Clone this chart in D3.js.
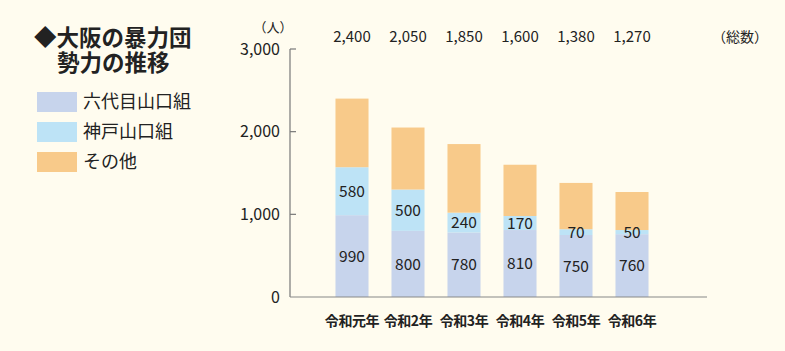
<!DOCTYPE html>
<html><head><meta charset="utf-8">
<script src="https://cdn.jsdelivr.net/npm/d3@7"></script>
<style>
body{margin:0;background:#FFFCEF;}
svg{display:block;font-family:"Noto Sans CJK JP","Noto Sans",sans-serif;}
</style></head>
<body><svg id="c" width="785" height="351"></svg>
<script>
const categories = ["令和元年","令和2年","令和3年","令和4年","令和5年","令和6年"];
const rokudaime = [990,800,780,810,750,760];
const kobe = [580,500,240,170,70,50];
const totals = [2400,2050,1850,1600,1380,1270];
const others = totals.map((t,i)=>t-rokudaime[i]-kobe[i]);
const seriesNames = ["六代目山口組","神戸山口組","その他"];
const colors = ["#C7D4EC","#BDE3F6","#F8CA8A"];
const yTicks = [0,1000,2000,3000];

const svg = d3.select("#c");
svg.append("rect").attr("width",785).attr("height",351).attr("fill","#FFFCEF");

const x = d3.scaleBand().domain(categories).range([324,660]).paddingInner(0.41).paddingOuter(0.205);
const y = d3.scaleLinear().domain([0,3000]).range([297,49]);

const data = categories.map((c,i)=>({cat:c, r:rokudaime[i], k:kobe[i], o:others[i], t:totals[i]}));
const stack = d3.stack().keys(["r","k","o"])(data);

stack.forEach((s,si)=>{
  svg.append("g").selectAll("rect").data(s).join("rect")
    .attr("x",d=>x(d.data.cat)).attr("width",x.bandwidth())
    .attr("y",d=>y(d[1])).attr("height",d=>y(d[0])-y(d[1]))
    .attr("fill",colors[si]);
});
stack.slice(0,2).forEach((s)=>{
  svg.append("g").selectAll("text").data(s).join("text")
    .attr("x",d=>x(d.data.cat)+x.bandwidth()/2)
    .attr("y",d=>(y(d[0])+y(d[1]))/2)
    .attr("dy","0.36em").attr("text-anchor","middle")
    .attr("font-size",15.5).attr("fill","#222")
    .text(d=>d[1]-d[0]);
});

const ax = 290;
svg.append("line").attr("x1",ax).attr("x2",ax).attr("y1",y(3000)).attr("y2",y(0)).attr("stroke","#777").attr("stroke-width",1.2);
svg.append("line").attr("x1",ax).attr("x2",707).attr("y1",y(0)).attr("y2",y(0)).attr("stroke","#888").attr("stroke-width",1.2);
svg.append("g").selectAll("line").data(yTicks.filter(v=>v>0)).join("line")
  .attr("x1",ax).attr("x2",ax+6).attr("y1",d=>y(d)).attr("y2",d=>y(d)).attr("stroke","#777").attr("stroke-width",1.2);
svg.append("g").selectAll("text").data(yTicks).join("text")
  .attr("x",280).attr("y",d=>y(d)).attr("dy","0.36em").attr("text-anchor","end")
  .attr("font-size",16).attr("fill","#222").text(d=>d3.format(",")(d));

svg.append("text").attr("x",273).attr("y",32).attr("text-anchor","middle").attr("font-size",13).attr("fill","#222").text("（人）");

svg.append("g").selectAll("text").data(data).join("text")
  .attr("x",d=>x(d.cat)+x.bandwidth()/2).attr("y",37).attr("dy","0.36em")
  .attr("text-anchor","middle").attr("font-size",15).attr("fill","#222")
  .text(d=>d3.format(",")(d.t));
svg.append("text").attr("x",740).attr("y",37).attr("dy","0.36em").attr("text-anchor","middle").attr("font-size",14).attr("fill","#222").text("（総数）");

svg.append("g").selectAll("text").data(categories).join("text")
  .attr("x",d=>x(d)+x.bandwidth()/2).attr("y",321).attr("dy","0.36em")
  .attr("text-anchor","middle").attr("font-size",14).attr("font-weight","bold").attr("fill","#222")
  .attr("letter-spacing","-0.4").text(d=>d);

const title = svg.append("text").attr("font-size",22.5).attr("font-weight","bold").attr("fill","#222");
title.append("tspan").attr("x",34).attr("y",46).text("◆大阪の暴力団");
title.append("tspan").attr("x",57).attr("y",71).text("勢力の推移");

seriesNames.forEach((n,i)=>{
  const ly = 92 + i*30;
  svg.append("rect").attr("x",37).attr("y",ly).attr("width",40).attr("height",20).attr("fill",colors[i]);
  svg.append("text").attr("x",83).attr("y",ly+10).attr("dy","0.36em").attr("font-size",18).attr("fill","#222").text(n);
});
</script></body></html>
